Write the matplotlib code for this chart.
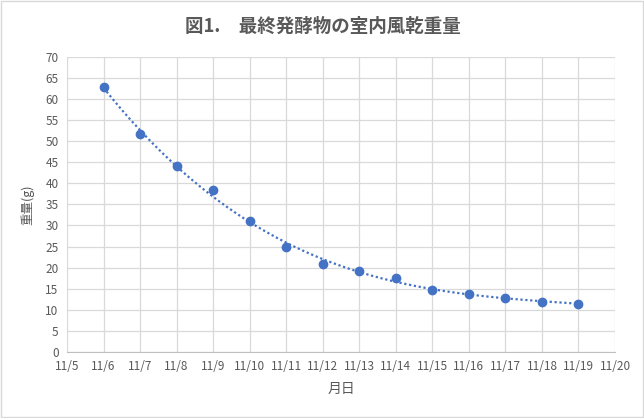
import matplotlib
matplotlib.use("Agg")
import matplotlib.pyplot as plt
import numpy as np

plt.rcParams['font.family'] = ['Noto Sans CJK JP', 'DejaVu Sans']

days = [6, 7, 8, 9, 10, 11, 12, 13, 14, 15, 16, 17, 18, 19]
weights = [62.8, 51.8, 44.1, 38.4, 31.0, 24.9, 20.9, 19.2, 17.5, 14.7, 13.8, 12.8, 11.9, 11.4]
tick_days = list(range(5, 21))
tick_labels = [f"11/{d}" for d in tick_days]

color = '#4472C4'
gray = '#595959'

fig = plt.figure(figsize=(6.44, 4.18), dpi=100)
ax = fig.add_axes([0.104, 0.158, 0.851, 0.706])

# trendline (polynomial fit)
coef = np.polyfit(days, weights, 3)
xs = np.linspace(days[0], days[-1], 200)
ax.plot(xs, np.polyval(coef, xs), linestyle=(0, (1, 1.2)), color=color, linewidth=1.6, zorder=2)
ax.plot(days, weights, 'o', color=color, markersize=6, zorder=3)

ax.set_xlim(5, 20)
ax.set_ylim(0, 70)
ax.set_xticks(tick_days)
ax.set_xticklabels(tick_labels)
ax.set_yticks(range(0, 71, 5))
ax.grid(True, color='#d9d9d9', linewidth=0.9)
ax.set_axisbelow(True)
for s in ['top', 'right', 'left']:
    ax.spines[s].set_visible(False)
ax.spines['bottom'].set_color('#bfbfbf')
ax.tick_params(axis='both', length=0, labelsize=8.5, colors=gray, pad=6)
ax.set_xlabel('月日', fontsize=10, color=gray, labelpad=6)
ax.set_ylabel('重量(g)', fontsize=9, color=gray, labelpad=8)

fig.text(0.502, 0.937, '図1.　最終発酵物の室内風乾重量', ha='center', va='center',
         fontsize=13.3, color=gray, fontweight='bold')

border = plt.Rectangle((0.002, 0.002), 0.996, 0.996, transform=fig.transFigure,
                       fill=False, edgecolor='#d9d9d9', linewidth=1)
fig.patches.append(border)

fig.savefig('out.png', dpi=100)
